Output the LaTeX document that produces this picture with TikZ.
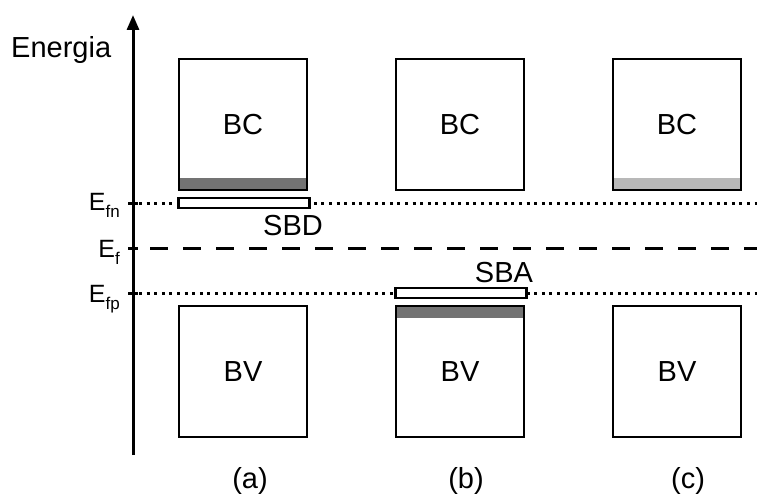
\documentclass[tikz,border=0pt]{standalone}
\usepackage{fontspec}
\setmainfont{Liberation Sans}
\usetikzlibrary{arrows.meta}

\tikzset{
	band/.style={draw, line width=2.8pt, minimum width=128pt, minimum height=131pt,
		inner sep=0pt, font=\fontsize{29}{33}\selectfont},
	lowfill/.style={path picture={\fill[#1] (path picture bounding box.south west)
		rectangle ([yshift=11.5pt]path picture bounding box.south east);}},
	highfill/.style={path picture={\fill[#1] (path picture bounding box.north west)
		rectangle ([yshift=-11.5pt]path picture bounding box.north east);}},
	impurity/.style={draw, fill=white, line width=2.6pt, minimum width=131pt,
		minimum height=10pt, inner sep=0pt},
	quasi/.style={line width=3pt, dash pattern=on 3pt off 4.6pt},
	fermi/.style={line width=3pt, dash pattern=on 18pt off 15pt},
	lbl/.style={font=\fontsize{29}{33}\selectfont, inner sep=0pt},
	lvl/.style={font=\fontsize{25}{29}\selectfont, inner sep=0pt, anchor=base east}
}

\begin{document}
\begin{tikzpicture}[x=1pt, y=-1pt]
	\useasboundingbox (0,0) rectangle (757,497);
	
	% vertical axis
	\coordinate (bottom) at (133,455);
	\coordinate (top) at (133,15);
	\draw[line width=3pt, -{Triangle[length=15pt, width=12pt]}] (bottom) -- (top);
	\node[lbl, anchor=base west] (energy) at (11,58) {Energia};
	
	% levels
	\coordinate (fn) at (133,203);
	\coordinate (f) at (133,248);
	\coordinate (fp) at (133,293);
	\coordinate (fnend) at (757,203);
	\coordinate (fend) at (757,248);
	\coordinate (fpend) at (757,293);
	\draw[quasi] ([xshift=6pt]fn) -- (fnend);
	\draw[fermi] ([xshift=17pt]f) -- (fend);
	\draw[quasi] ([xshift=6pt]fp) -- (fpend);
	
	% ticks
	\draw[line width=3pt] ([xshift=-5pt]fn) -- ([xshift=5pt]fn);
	\draw[line width=3pt] ([xshift=-5pt]f) -- ([xshift=5pt]f);
	\draw[line width=3pt] ([xshift=-5pt]fp) -- ([xshift=5pt]fp);
	
	\node[lvl] (lfn) at (120,211) {E\raisebox{-7pt}{\fontsize{17}{17}\selectfont fn}};
	\node[lvl] (lf) at (120,257) {E\raisebox{-7pt}{\fontsize{17}{17}\selectfont f}};
	\node[lvl] (lfp) at (120,302) {E\raisebox{-7pt}{\fontsize{17}{17}\selectfont fp}};
	
	% conduction bands
	\node[band, lowfill=black!55] (bca) at (243,124.5) {BC};
	\node[band] (bcb) at (460,124.5) {BC};
	\node[band, lowfill=black!28] (bcc) at (677,124.5) {BC};
	
	% valence bands
	\node[band] (bva) at (243,371.5) {BV};
	\node[band, highfill=black!55] (bvb) at (460,371.5) {BV};
	\node[band] (bvc) at (677,371.5) {BV};
	
	% donor and acceptor levels
	\node[impurity] (sbd) at (244,203) {};
	\node[impurity] (sba) at (461,293) {};
	\node[lbl] (lsbd) at (293,226) {SBD};
	\node[lbl] (lsba) at (504,273) {SBA};
	
	% cases
	\node[lbl] (ca) at (250,481) {(a)};
	\node[lbl] (cb) at (466,481) {(b)};
	\node[lbl] (cc) at (688,481) {(c)};
	
\end{tikzpicture}
\end{document}
